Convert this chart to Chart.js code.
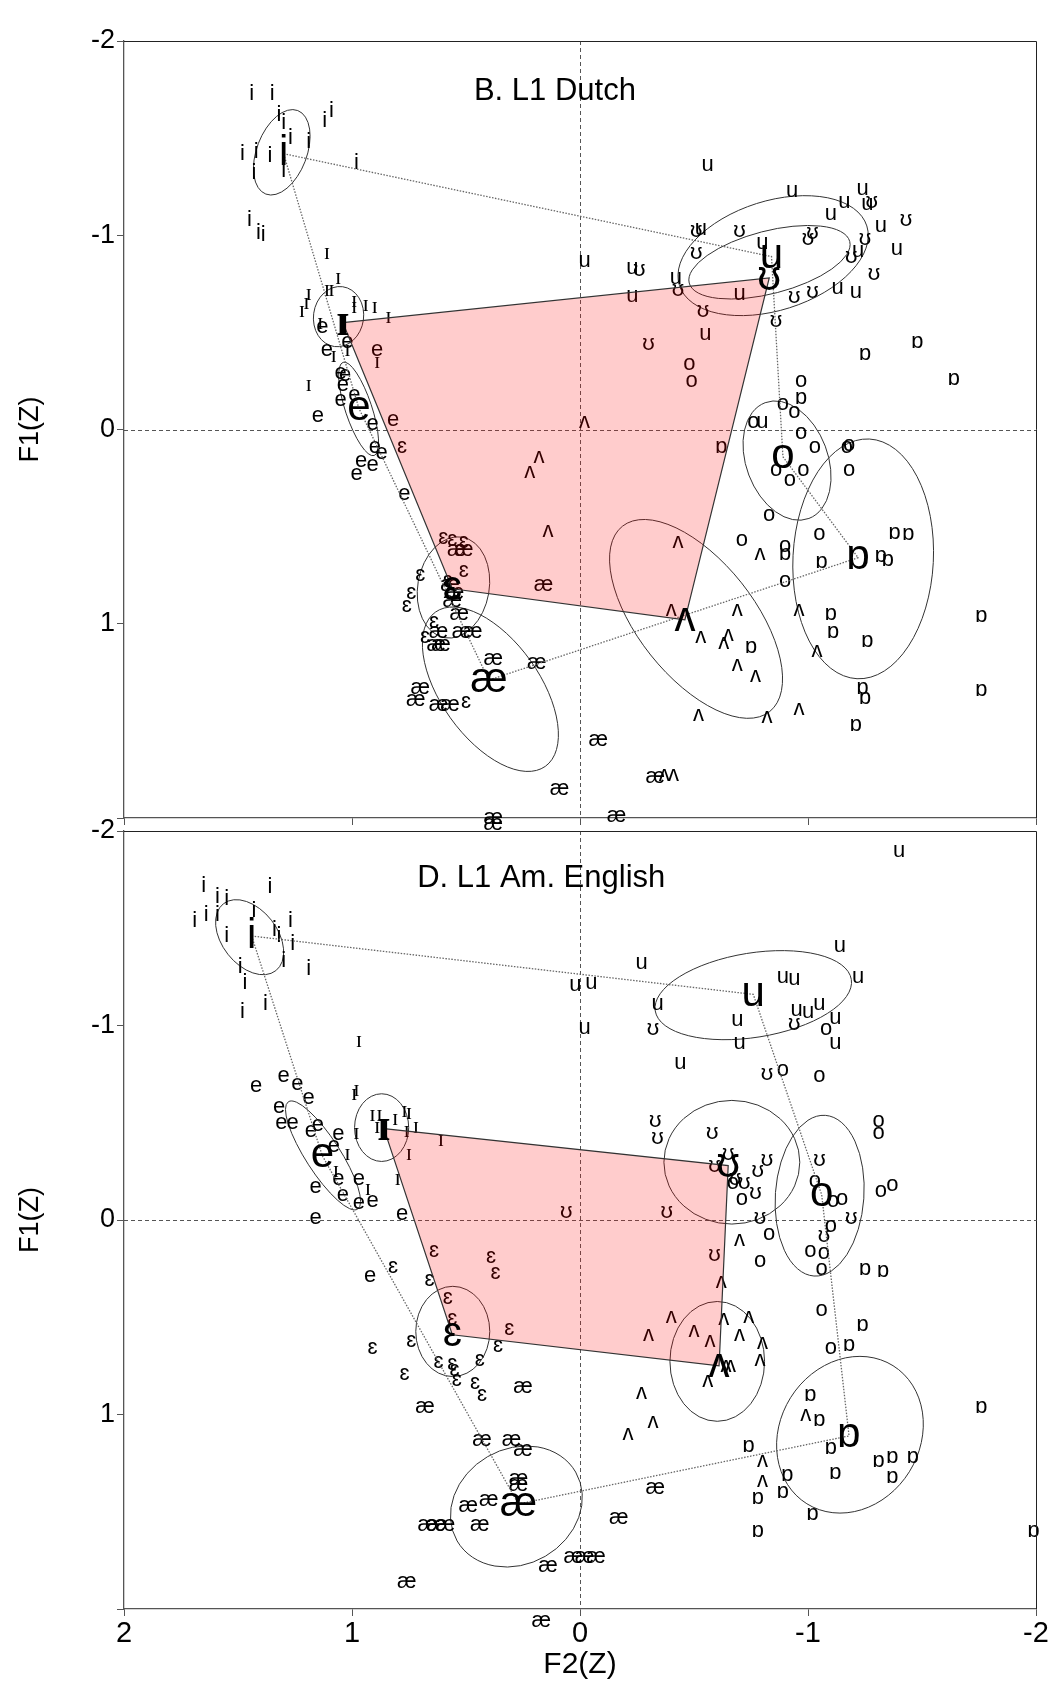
<!DOCTYPE html>
<html>
<head>
<meta charset="utf-8">
<script src="https://cdn.jsdelivr.net/npm/chart.js@4.4.1/dist/chart.umd.min.js"></script>
<style>
  html, body { margin: 0; padding: 0; background: #fff; }
  #wrap { position: relative; width: 1052px; height: 1682px; }
  canvas { position: absolute; left: 0; }
  #dutch { top: 0; }
  #english { top: 800px; }
</style>
</head>
<body>
<div id="wrap">
  <canvas id="dutch" width="1052" height="840" style="width:1052px;height:840px"></canvas>
  <canvas id="english" width="1052" height="882" style="width:1052px;height:882px"></canvas>
</div>
<script>
// vowel order used by every per-panel list below
const VOWELS = ["i", "ɪ", "e", "ɛ", "æ", "ʌ", "ɒ", "o", "u", "ʊ"];
const LAX_SHAPE = ["ɪ", "ʊ", "ʌ", "ɛ", "ɪ"];
const CORNERS = ["i", "u", "o", "ɒ", "æ", "e", "i"];
const X_TICKS = [2, 1, 0, -1, -2];
const Y_TICKS = [-2, -1, 0, 1, 2];

// ---- B. L1 Dutch: single tokens [F2, F1] ----
const NL_I = [[1.44,-1.73],[1.35,-1.73],[1.32,-1.62],[1.30,-1.58],[1.12,-1.59],[1.09,-1.64],[1.27,-1.50],[1.19,-1.48],[1.48,-1.42],[1.42,-1.43],[1.36,-1.41],[1.43,-1.32],[1.30,-1.33],[0.98,-1.37],[1.45,-1.08],[1.41,-1.01],[1.39,-1.00]];
const NL_IH = [[1.11,-0.91],[1.06,-0.78],[1.19,-0.70],[1.11,-0.72],[1.09,-0.72],[1.20,-0.65],[1.22,-0.61],[0.99,-0.66],[0.99,-0.63],[0.94,-0.64],[0.90,-0.63],[0.84,-0.58],[1.02,-0.41],[1.08,-0.38],[0.89,-0.35],[1.19,-0.23],[1.14,-0.55]];
const NL_E = [[1.13,-0.53],[1.02,-0.45],[1.11,-0.41],[0.89,-0.41],[1.05,-0.29],[1.03,-0.28],[1.04,-0.23],[0.99,-0.18],[1.05,-0.15],[1.15,-0.07],[0.91,-0.03],[0.82,-0.05],[0.90,0.09],[0.87,0.12],[0.96,0.16],[0.91,0.18],[0.98,0.23],[0.77,0.33]];
const NL_EH = [[0.78,0.09],[0.60,0.56],[0.56,0.57],[0.51,0.58],[0.51,0.73],[0.70,0.75],[0.74,0.84],[0.76,0.91],[0.58,0.78],[0.64,0.99],[0.68,1.07],[0.50,1.40]];
const NL_AE = [[0.54,0.62],[0.51,0.62],[0.16,0.80],[0.57,0.80],[0.55,0.84],[0.56,0.88],[0.53,0.95],[0.62,1.04],[0.52,1.04],[0.47,1.04],[0.61,1.11],[0.63,1.11],[0.38,1.18],[0.19,1.20],[0.70,1.33],[0.72,1.39],[0.62,1.42],[0.57,1.42],[0.09,1.85],[0.38,2.00],[0.38,2.03],[-0.08,1.60],[-0.33,1.79],[-0.16,1.99]];
const NL_UH = [[-0.02,-0.04],[0.18,0.14],[0.22,0.22],[0.14,0.52],[-0.43,0.58],[-0.79,0.64],[-0.40,0.93],[-0.69,0.93],[-0.96,0.93],[-0.53,1.07],[-0.63,1.10],[-0.65,1.06],[-0.69,1.21],[-0.77,1.27],[-1.04,1.14],[-0.52,1.47],[-0.82,1.48],[-0.96,1.44],[-0.37,1.78],[-0.41,1.78]];
const NL_AW = [[-1.25,-0.39],[-1.48,-0.45],[-1.64,-0.26],[-0.97,-0.16],[-0.62,0.09],[-0.90,0.64],[-1.06,0.68],[-1.38,0.53],[-1.44,0.54],[-1.32,0.65],[-1.35,0.67],[-1.10,0.95],[-1.11,1.04],[-1.76,0.96],[-0.75,1.12],[-1.26,1.09],[-1.24,1.33],[-1.25,1.38],[-1.76,1.34],[-1.21,1.52]];
const NL_O = [[-0.48,-0.34],[-0.49,-0.25],[-0.97,-0.25],[-0.89,-0.13],[-0.94,-0.09],[-0.76,-0.04],[-0.97,0.02],[-1.03,0.09],[-1.18,0.08],[-1.17,0.09],[-1.18,0.21],[-0.86,0.21],[-0.98,0.21],[-0.92,0.26],[-0.83,0.44],[-0.71,0.57],[-1.05,0.54],[-0.90,0.60],[-0.90,0.78]];
const NL_U = [[-0.56,-1.36],[-0.93,-1.23],[-1.24,-1.24],[-1.26,-1.16],[-1.16,-1.17],[-1.10,-1.11],[-1.32,-1.05],[-1.39,-0.93],[-1.22,-0.92],[-0.53,-1.03],[-0.80,-0.96],[-1.13,-0.73],[-1.21,-0.71],[-0.70,-0.70],[-0.42,-0.78],[-0.02,-0.87],[-0.23,-0.83],[-0.23,-0.69],[-0.55,-0.49],[-0.80,-0.04]];
const NL_UU = [[-1.28,-1.17],[-1.43,-1.08],[-1.25,-0.98],[-1.19,-0.89],[-1.00,-0.98],[-1.02,-1.01],[-0.70,-1.02],[-0.51,-1.02],[-0.51,-0.91],[-1.29,-0.80],[-1.02,-0.71],[-0.94,-0.68],[-0.43,-0.72],[-0.26,-0.82],[-0.54,-0.61],[-0.86,-0.56],[-0.30,-0.44]];
// vowel means, VOWELS order
const NL_MEANS = [[1.30,-1.42],[1.04,-0.55],[0.97,-0.11],[0.56,0.82],[0.40,1.29],[-0.46,0.98],[-1.22,0.66],[-0.89,0.14],[-0.84,-0.89],[-0.83,-0.78]];
// ellipses: centre x, centre y, end of long axis x, y, short/long ratio
const NL_ELLIPSES = [[1.308,-1.427,1.238,-1.642,0.56],[1.059,-0.581,1.041,-0.735,0.83],[0.971,-0.106,0.903,0.134,0.27],[0.555,0.813,0.517,0.554,0.70],[0.393,1.337,0.152,1.734,0.52],[-0.509,0.975,-0.832,1.452,0.49],[-1.242,0.666,-1.269,0.049,0.585],[-0.908,0.160,-1.004,0.458,0.66],[-0.847,-0.895,-1.258,-1.048,0.556],[-0.831,-0.861,-1.183,-0.968,0.378]];

// ---- D. L1 Am. English ----
const EN_I = [[1.65,-1.72],[1.59,-1.66],[1.55,-1.65],[1.36,-1.71],[1.69,-1.54],[1.64,-1.57],[1.59,-1.57],[1.43,-1.59],[1.27,-1.54],[1.55,-1.46],[1.34,-1.49],[1.32,-1.46],[1.26,-1.42],[1.30,-1.33],[1.19,-1.29],[1.49,-1.30],[1.47,-1.22],[1.38,-1.11],[1.48,-1.07]];
const EN_IH = [[0.97,-0.92],[0.98,-0.67],[0.99,-0.65],[0.91,-0.54],[0.88,-0.54],[0.81,-0.52],[0.77,-0.56],[0.75,-0.55],[0.72,-0.48],[0.76,-0.46],[0.89,-0.48],[0.98,-0.45],[0.61,-0.41],[0.75,-0.34],[1.02,-0.34],[1.07,-0.25],[0.80,-0.21],[0.93,-0.16]];
const EN_E = [[1.42,-0.69],[1.30,-0.74],[1.24,-0.70],[1.19,-0.63],[1.32,-0.58],[1.31,-0.50],[1.26,-0.50],[1.18,-0.46],[1.15,-0.49],[1.06,-0.44],[1.08,-0.38],[1.06,-0.21],[0.97,-0.21],[1.16,-0.17],[1.04,-0.13],[0.97,-0.09],[0.91,-0.10],[0.78,-0.03],[1.16,-0.01],[0.92,0.29]];
const EN_EH = [[0.64,0.16],[0.39,0.19],[0.37,0.27],[0.82,0.24],[0.66,0.31],[0.58,0.40],[0.56,0.51],[0.31,0.56],[0.74,0.62],[0.91,0.66],[0.36,0.65],[0.62,0.73],[0.56,0.74],[0.55,0.77],[0.44,0.72],[0.54,0.82],[0.46,0.84],[0.43,0.90],[0.77,0.79]];
const EN_AE = [[0.25,0.86],[0.68,0.96],[0.43,1.13],[0.30,1.13],[0.25,1.18],[0.27,1.33],[0.27,1.36],[0.40,1.44],[0.49,1.47],[0.44,1.57],[0.67,1.57],[0.63,1.57],[0.59,1.57],[0.14,1.78],[0.03,1.73],[-0.02,1.73],[-0.07,1.73],[0.76,1.86],[0.17,2.06],[-0.33,1.38],[-0.17,1.53]];
const EN_UH = [[-0.70,0.10],[-0.62,0.32],[-0.40,0.50],[-0.30,0.59],[-0.50,0.57],[-0.57,0.62],[-0.63,0.51],[-0.74,0.50],[-0.70,0.59],[-0.80,0.63],[-0.79,0.72],[-0.64,0.75],[-0.66,0.75],[-0.56,0.83],[-0.27,0.89],[-0.32,1.04],[-0.21,1.10],[-0.99,1.00],[-0.80,1.24],[-0.80,1.34]];
const EN_AW = [[-1.25,0.25],[-1.33,0.26],[-1.24,0.54],[-1.18,0.64],[-1.01,0.90],[-1.05,1.03],[-1.76,0.96],[-0.74,1.16],[-1.10,1.17],[-0.91,1.31],[-1.12,1.30],[-1.31,1.24],[-1.37,1.22],[-1.46,1.22],[-1.37,1.32],[-0.78,1.43],[-0.89,1.40],[-1.02,1.51],[-0.78,1.60],[-1.99,1.60]];
const EN_O = [[-0.89,-0.77],[-1.05,-0.74],[-1.08,-0.98],[-1.31,-0.51],[-1.31,-0.45],[-0.67,-0.19],[-0.71,-0.11],[-1.03,-0.20],[-1.11,-0.10],[-1.15,-0.11],[-1.32,-0.15],[-1.37,-0.18],[-1.10,0.03],[-0.83,0.07],[-0.79,0.21],[-1.01,0.16],[-1.07,0.17],[-1.06,0.25],[-1.06,0.46],[-1.10,0.66]];
const EN_U = [[-1.40,-1.90],[-1.14,-1.41],[-0.27,-1.32],[-0.05,-1.22],[0.02,-1.21],[-0.89,-1.25],[-0.94,-1.24],[-1.22,-1.25],[-0.34,-1.11],[-0.95,-1.08],[-1.00,-1.07],[-1.05,-1.11],[-0.69,-1.03],[-1.12,-1.04],[-0.02,-0.99],[-0.70,-0.91],[-1.12,-0.91],[-0.44,-0.81]];
const EN_UU = [[-0.94,-1.01],[-0.32,-0.98],[-0.82,-0.75],[-0.33,-0.51],[-0.34,-0.42],[-0.58,-0.45],[-0.59,-0.28],[-0.65,-0.34],[-0.78,-0.25],[-0.82,-0.31],[-0.68,-0.21],[-0.72,-0.19],[-0.77,-0.14],[-1.05,-0.31],[-0.38,-0.04],[-0.79,-0.01],[-1.19,-0.01],[0.06,-0.04],[-1.07,0.08],[-0.59,0.18]];
const EN_MEANS = [[1.44,-1.46],[0.86,-0.47],[1.13,-0.33],[0.56,0.59],[0.27,1.46],[-0.61,0.75],[-1.18,1.11],[-1.06,-0.13],[-0.76,-1.16],[-0.65,-0.28]];
const EN_ELLIPSES = [[1.449,-1.454,1.334,-1.282,0.65],[0.870,-0.475,0.870,-0.649,0.80],[1.127,-0.332,0.975,-0.056,0.27],[0.558,0.573,0.558,0.341,0.82],[0.279,1.473,0.019,1.296,0.84],[-0.602,0.727,-0.602,0.419,0.79],[-1.184,1.104,-1.373,0.749,0.86],[-1.051,-0.125,-1.076,-0.538,0.55],[-0.666,-0.297,-0.964,-0.297,0.91],[-0.760,-1.156,-1.190,-1.237,0.425]];

const SANS = '"Liberation Sans", Arial, "DejaVu Sans", sans-serif';
const SERIF = '"Liberation Serif", "Times New Roman", "DejaVu Serif", serif';
Chart.defaults.font.family = SANS;
Chart.defaults.color = "#000";

function glyphFont(g, size, big) {
  if (g === "ɪ") return (big ? "bold " : "") + Math.round(size * (big ? 1.1 : 1.05)) + "px " + SERIF;
  return size + "px " + SANS;
}

function vowelPlugin(panel) {
  return {
    id: "vowelPlot",
    beforeDatasetsDraw(chart) {
      const { ctx, chartArea: a, scales: { x, y } } = chart;
      ctx.save();
      // dashed zero lines
      ctx.strokeStyle = "#555";
      ctx.lineWidth = 1;
      ctx.setLineDash([4, 3]);
      const x0 = Math.round(x.getPixelForValue(0)) + 0.5;
      const y0 = Math.round(y.getPixelForValue(0)) + 0.5;
      ctx.beginPath();
      ctx.moveTo(x0, a.top); ctx.lineTo(x0, a.bottom);
      ctx.moveTo(a.left, y0); ctx.lineTo(a.right, y0);
      ctx.stroke();
      // spread ellipses
      ctx.setLineDash([]);
      ctx.strokeStyle = "#333";
      panel.ellipses.forEach(([cx, cy, ex, ey, ratio]) => {
        const px = x.getPixelForValue(cx), py = y.getPixelForValue(cy);
        const qx = x.getPixelForValue(ex), qy = y.getPixelForValue(ey);
        const r = Math.hypot(qx - px, qy - py);
        ctx.beginPath();
        ctx.ellipse(px, py, r, r * ratio, Math.atan2(qy - py, qx - px), 0, Math.PI * 2);
        ctx.stroke();
      });
      ctx.restore();
    },
    afterDatasetDraw(chart, args) {
      const ds = chart.data.datasets[args.index];
      if (!ds.glyph && !ds.glyphs) return;
      const ctx = chart.ctx;
      ctx.save();
      ctx.fillStyle = "#000";
      ctx.textAlign = "center";
      ctx.textBaseline = "middle";
      args.meta.data.forEach((pt, i) => {
        const g = ds.glyphs ? ds.glyphs[i] : ds.glyph;
        ctx.font = glyphFont(g, ds.fontSize, !!ds.glyphs);
        ctx.fillText(g, pt.x, pt.y);
      });
      ctx.restore();
    },
    afterDraw(chart) {
      const { ctx, chartArea: a, scales: { x, y } } = chart;
      ctx.save();
      ctx.strokeStyle = "#222";
      ctx.lineWidth = 1;
      ctx.beginPath();
      ctx.moveTo(a.left, Math.round(a.top) + 0.5);
      ctx.lineTo(a.right + 0.5, Math.round(a.top) + 0.5);
      ctx.lineTo(Math.round(a.right) + 0.5, a.bottom);
      ctx.stroke();
      ctx.font = "31px " + SANS;
      ctx.fillStyle = "#000";
      ctx.textAlign = "center";
      ctx.textBaseline = "middle";
      ctx.fillText(panel.title, x.getPixelForValue(panel.titleAt[0]), y.getPixelForValue(panel.titleAt[1]));
      ctx.restore();
    }
  };
}

function buildPanel(canvasId, panel) {
  const meanOf = (v) => panel.means[VOWELS.indexOf(v)];
  const datasets = [
    {
      type: "scatter",
      label: "means",
      data: panel.means.map(([x, y]) => ({ x, y })),
      glyphs: VOWELS,
      fontSize: 42,
      pointRadius: 0,
    },
    {
      type: "line",
      label: "lax",
      data: LAX_SHAPE.map((v) => ({ x: meanOf(v)[0], y: meanOf(v)[1] })),
      borderColor: "#333",
      borderWidth: 1.2,
      backgroundColor: "rgba(255,0,0,0.2)",
      fill: "shape",
      pointRadius: 0,
      tension: 0,
    },
    {
      type: "line",
      label: "corners",
      data: CORNERS.map((v) => ({ x: meanOf(v)[0], y: meanOf(v)[1] })),
      borderColor: "#666",
      borderWidth: 1.3,
      borderDash: [1.5, 1.5],
      fill: false,
      pointRadius: 0,
      tension: 0,
    },
  ];
  VOWELS.forEach((v, i) => {
    datasets.push({
      type: "scatter",
      label: v,
      data: panel.tokens[i].map(([x, y]) => ({ x, y })),
      glyph: v,
      fontSize: 22,
      pointRadius: 0,
    });
  });

  return new Chart(document.getElementById(canvasId), {
    type: "scatter",
    data: { datasets },
    options: {
      responsive: false,
      animation: false,
      events: [],
      layout: { padding: { top: panel.padTop, right: 16, left: 0, bottom: 0 } },
      plugins: { legend: { display: false }, tooltip: { enabled: false } },
      scales: {
        x: {
          type: "linear",
          min: -2,
          max: 2,
          reverse: true,
          afterBuildTicks: (s) => { s.ticks = X_TICKS.map((value) => ({ value })); },
          afterFit: (s) => { s.height = panel.xHeight; },
          grid: { drawOnChartArea: false, drawTicks: true, tickLength: 7, tickColor: "#555" },
          border: { display: true, color: "#555", width: 1.3 },
          ticks: {
            display: panel.showX,
            padding: 1,
            maxRotation: 0,
            autoSkip: false,
            font: { size: 29 },
            callback: (v) => String(v),
          },
          title: {
            display: panel.showX,
            text: "F2(Z)",
            font: { size: 30, lineHeight: 1 },
            padding: { top: 0, bottom: 2 },
          },
        },
        y: {
          type: "linear",
          min: -2,
          max: 2,
          reverse: true,
          afterBuildTicks: (s) => { s.ticks = Y_TICKS.map((value) => ({ value })); },
          afterFit: (s) => { s.width = 124; },
          grid: { drawOnChartArea: false, drawTicks: true, tickLength: 7, tickColor: "#555" },
          border: { display: true, color: "#555", width: 1.3 },
          ticks: {
            padding: 2,
            font: { size: 27 },
            callback: (v) => (v === 2 ? "" : String(v)),
          },
          title: {
            display: true,
            text: "F1(Z)",
            font: { size: 27, lineHeight: 1.2 },
            padding: { top: 14, bottom: 0 },
          },
        },
      },
    },
    plugins: [vowelPlugin(panel)],
  });
}

buildPanel("dutch", {
  title: "B. L1 Dutch",
  titleAt: [0.11, -1.74],
  tokens: [NL_I, NL_IH, NL_E, NL_EH, NL_AE, NL_UH, NL_AW, NL_O, NL_U, NL_UU],
  means: NL_MEANS,
  ellipses: NL_ELLIPSES,
  padTop: 41,
  xHeight: 22,
  showX: false,
});

buildPanel("english", {
  title: "D. L1 Am. English",
  titleAt: [0.17, -1.755],
  tokens: [EN_I, EN_IH, EN_E, EN_EH, EN_AE, EN_UH, EN_AW, EN_O, EN_U, EN_UU],
  means: EN_MEANS,
  ellipses: EN_ELLIPSES,
  padTop: 31,
  xHeight: 73,
  showX: true,
});
</script>
</body>
</html>
